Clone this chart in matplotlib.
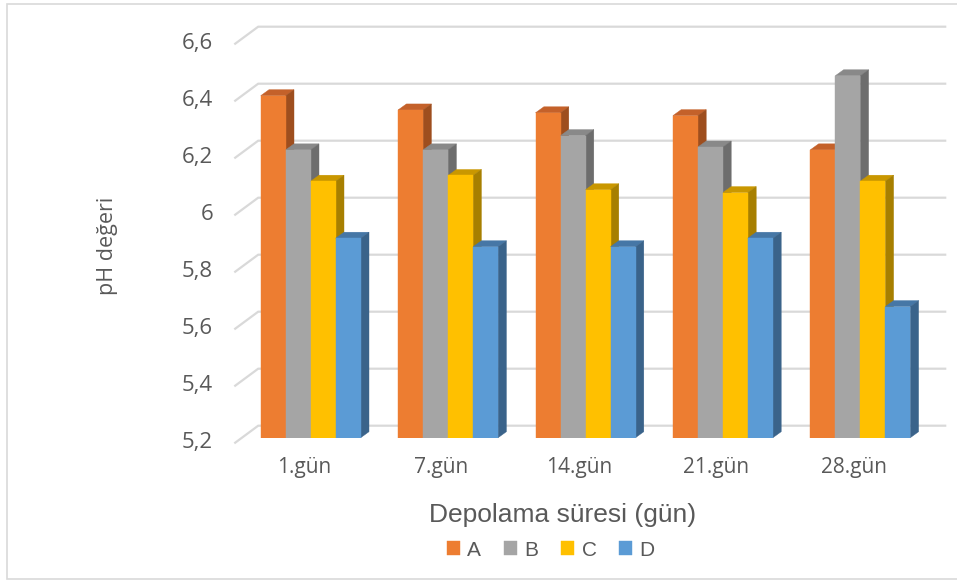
import matplotlib
matplotlib.use("Agg")
import matplotlib.pyplot as plt
from matplotlib.patches import Polygon, Rectangle
from matplotlib.lines import Line2D
import numpy as np

# ---- data -----------------------------------------------------------------
categories = ["1.gün", "7.gün", "14.gün", "21.gün", "28.gün"]
series_names = ["A", "B", "C", "D"]
values_A = [6.40, 6.35, 6.34, 6.33, 6.21]
values_B = [6.21, 6.21, 6.26, 6.22, 6.47]
values_C = [6.10, 6.12, 6.07, 6.06, 6.10]
values_D = [5.90, 5.87, 5.87, 5.90, 5.66]
y_ticks = [5.2, 5.4, 5.6, 5.8, 6.0, 6.2, 6.4, 6.6]
y_tick_labels = ["5,2", "5,4", "5,6", "5,8", "6", "6,2", "6,4", "6,6"]

# ---- style ----------------------------------------------------------------
front_colors = ["#ED7D31", "#A5A5A5", "#FFC000", "#5B9BD5"]
top_colors = ["#C4612A", "#898989", "#C99700", "#4677A6"]
side_colors = ["#9E4E1E", "#6D6D6D", "#A77F00", "#3A638A"]
grid_color = "#D9D9D9"
text_color = "#595959"

W, H = 957, 581
fig = plt.figure(figsize=(W / 100, H / 100), dpi=100)
fig.patch.set_facecolor("white")

# axes = bar front plane (pixel layout)
ax_left, ax_right = 242.0, 929.0
ax_top, ax_bottom = 38.7, 437.7
ax = fig.add_axes([ax_left / W, 1 - ax_bottom / H,
                   (ax_right - ax_left) / W, (ax_bottom - ax_top) / H])
ymin, ymax = 5.2, 6.6
xmin, xmax = -0.5, len(categories) - 0.5
ax.set_xlim(xmin, xmax)
ax.set_ylim(ymin, ymax)
ax.axis("off")

px_x = (ax_right - ax_left) / (xmax - xmin)   # pixels per x unit
px_y = (ax_bottom - ax_top) / (ymax - ymin)   # pixels per y unit


def shift(x, y, dxp, dyp):
    """Move a data point by a pixel offset (dy up)."""
    return x + dxp / px_x, y + dyp / px_y


# depth vectors in pixels relative to bar front plane
front_edge = (-6.8, -5.0)
back_wall = (16.2, 12.0)
bar_depth = (8.3, 6.0)

# ---- gridlines on left wall and back wall --------------------------------
for v in y_ticks:
    x0, y0 = shift(xmin, v, *front_edge)
    x1, y1 = shift(xmin, v, *back_wall)
    x2, y2 = shift(xmax, v, *back_wall)
    ax.add_line(Line2D([x0, x1, x2], [y0, y1, y2], color=grid_color,
                       lw=1.6, clip_on=False, zorder=1,
                       solid_joinstyle="miter"))

# ---- y tick labels -------------------------------------------------------
for v, lab in zip(y_ticks, y_tick_labels):
    xt, yt = shift(xmin, v, front_edge[0] - 22, front_edge[1])
    ax.text(xt, yt, lab, ha="right", va="center", fontsize=16,
            family="Open Sans", color=text_color, clip_on=False)

# ---- bars ----------------------------------------------------------------
series = [values_A, values_B, values_C, values_D]
bar_w = 25.0 / px_x
x = np.arange(len(categories))
offsets = (np.arange(len(series)) - 1.5) * bar_w

for i, (name, vals) in enumerate(zip(series_names, series)):
    xs = x + offsets[i]
    z = 3 + i * 3
    ax.bar(xs, np.array(vals) - ymin, bottom=ymin, width=bar_w,
           color=front_colors[i], label=name, zorder=z + 2,
           edgecolor=front_colors[i], linewidth=0.3)
    for xc, v in zip(xs, vals):
        xl, xr = xc - bar_w / 2, xc + bar_w / 2
        dx, dy = bar_depth
        top = [(xl, v), (xr, v), shift(xr, v, dx, dy), shift(xl, v, dx, dy)]
        side = [(xr, ymin), shift(xr, ymin, dx, dy), shift(xr, v, dx, dy), (xr, v)]
        ax.add_patch(Polygon(top, closed=True, facecolor=top_colors[i],
                             edgecolor=top_colors[i], lw=0.3, zorder=z,
                             clip_on=False))
        ax.add_patch(Polygon(side, closed=True, facecolor=side_colors[i],
                             edgecolor=side_colors[i], lw=0.3, zorder=z + 1,
                             clip_on=False))

# ---- category labels -----------------------------------------------------
for xc, lab in zip(x, categories):
    xt, yt = shift(xc, ymin, front_edge[0], -30)
    ax.text(xt, yt, lab, ha="center", va="center", fontsize=15,
            family="Open Sans", color=text_color, clip_on=False)

# ---- axis titles ---------------------------------------------------------
fig.text(563 / W, 1 - 515 / H, "Depolama süresi (gün)", ha="center",
         va="center", fontsize=19, family="Liberation Sans", color=text_color)
fig.text(108 / W, 1 - 246 / H, "pH değeri", ha="center", va="center",
         rotation=90, fontsize=15.5, family="Open Sans", color=text_color)

# ---- legend --------------------------------------------------------------
handles, labels = ax.get_legend_handles_labels()
fig.legend(handles, labels, loc="center", bbox_to_anchor=(551 / W, 1 - 550 / H),
           ncol=4, frameon=False, handlelength=0.62, handleheight=0.62,
           handletextpad=0.35, columnspacing=1.1,
           prop={"family": "Liberation Sans", "size": 15},
           labelcolor=text_color)

# ---- chart border --------------------------------------------------------
fig.add_artist(Rectangle((7 / W, 2 / H), (W - 6) / W, (H - 6) / H,
                         transform=fig.transFigure, fill=False,
                         edgecolor=grid_color, lw=1.2))

fig.savefig("out.png", dpi=100, facecolor="white")
